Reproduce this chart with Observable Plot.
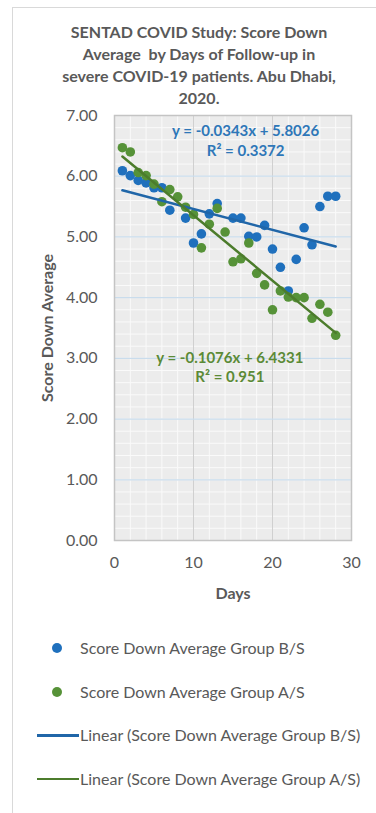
<!DOCTYPE html>
<html>
<head>
<meta charset="utf-8">
<script src="https://cdn.jsdelivr.net/npm/d3@7"></script>
<script src="https://cdn.jsdelivr.net/npm/@observablehq/plot@0.6"></script>
<style>
  html, body { margin: 0; padding: 0; background: #fff; }
  body { width: 376px; height: 813px; overflow: hidden; position: relative; font-family: Lato, "Open Sans", sans-serif; color: #595959; }
  #frame { position: absolute; left: 12px; top: 7px; width: 400px; height: 900px; border-left: 1.5px solid #d9d9d9; border-top: 1.5px solid #d9d9d9; }
  #title { position: absolute; left: 0; top: 21px; width: 398px; text-align: center; font-weight: bold; font-size: 16px; line-height: 22px; color: #595959; }
  #chart { position: absolute; left: 0; top: 0; }
  #legend { position: absolute; left: 0; top: 636px; font-size: 16px; color: #595959; }
  .row { position: absolute; left: 0; height: 24px; white-space: nowrap; }
  .row span.t { position: absolute; left: 80px; top: 0; line-height: 24px; }
  .dot { position: absolute; left: 52px; top: 7px; width: 10px; height: 10px; border-radius: 50%; }
  .ln { position: absolute; left: 37px; top: 11px; width: 42px; height: 2.5px; }
</style>
</head>
<body>
<div id="frame"></div>
<div id="chart"></div>
<div id="title">SENTAD COVID Study: Score Down<br>Average&nbsp; by Days of Follow-up in<br>severe COVID-19 patients. Abu Dhabi,<br>2020.</div>
<div id="legend"></div>
<script>
// ---- Data ----
const daysB = [1, 2, 3, 4, 5, 6, 7, 9, 10, 11, 12, 13, 15, 16, 17, 18, 19, 20, 21, 22, 23, 24, 25, 26, 27, 28];
const scoreB = [6.09, 6.01, 5.93, 5.89, 5.81, 5.81, 5.44, 5.31, 4.90, 5.05, 5.38, 5.55, 5.31, 5.31, 5.01, 5.00, 5.19, 4.80, 4.50, 4.11, 4.63, 5.15, 4.87, 5.50, 5.67, 5.67];
const daysA = [1, 2, 3, 4, 5, 6, 7, 8, 9, 10, 11, 12, 13, 14, 15, 16, 17, 18, 19, 20, 21, 22, 23, 24, 25, 26, 27, 28];
const scoreA = [6.47, 6.40, 6.06, 6.01, 5.87, 5.58, 5.78, 5.66, 5.49, 5.37, 4.82, 5.21, 5.47, 5.08, 4.59, 4.64, 4.90, 4.40, 4.21, 3.80, 4.11, 4.01, 4.00, 4.00, 3.66, 3.89, 3.76, 3.38];
const seriesNames = ["Score Down Average Group B/S", "Score Down Average Group A/S"];
const trendNames = ["Linear (Score Down Average Group B/S)", "Linear (Score Down Average Group A/S)"];
const trendSlope = [-0.0343, -0.1076];
const trendIntercept = [5.8026, 6.4331];
const trendR2 = ["0.3372", "0.951"];
const trendRange = [1, 28];
const xTicks = [0, 10, 20, 30];
const yTicks = [0, 1, 2, 3, 4, 5, 6, 7];

const colBlue = "#1f70bd", colGreen = "#569238";
const lineBlue = "#2066a8", lineGreen = "#4c7c2c";
const txtBlue = "#2e77b8", txtGreen = "#5b8a36";

const ptsB = daysB.map((d, i) => ({day: d, v: scoreB[i]}));
const ptsA = daysA.map((d, i) => ({day: d, v: scoreA[i]}));
const trend = (k) => trendRange.map(x => ({day: x, v: trendSlope[k] * x + trendIntercept[k]}));
const fmt = v => (v < 0 ? "-" : "") + Math.abs(v).toFixed(4);
const eqB = `y = ${fmt(trendSlope[0])}x + ${trendIntercept[0].toFixed(4)}`;
const eqA = `y = ${fmt(trendSlope[1])}x + ${trendIntercept[1].toFixed(4)}`;

const minorX = d3.range(0, 31, 2);
const minorY = d3.range(0, 7.001, 0.2);

const chart = Plot.plot({
  width: 376,
  height: 610,
  marginTop: 115,
  marginLeft: 114,
  marginRight: 25,
  marginBottom: 70,
  style: {fontFamily: "Lato, 'Open Sans', sans-serif", fontSize: "16px", color: "#595959", background: "transparent"},
  x: {domain: [0, 30]},
  y: {domain: [0, 7]},
  marks: [
    Plot.frame({fill: "#ececec", stroke: null}),
    Plot.gridX(minorX, {stroke: "#fafafa", strokeOpacity: 1, strokeWidth: 1}),
    Plot.gridY(minorY, {stroke: "#fafafa", strokeOpacity: 1, strokeWidth: 1}),
    Plot.gridX([10, 20], {stroke: "#d0d0d0", strokeOpacity: 1, strokeWidth: 1}),
    Plot.gridY(yTicks, {stroke: "#c9dcec", strokeOpacity: 1, strokeWidth: 1.2}),
    Plot.frame({stroke: "#c4c4c4", strokeWidth: 1.5}),
    Plot.axisX(xTicks, {tickSize: 0, tickPadding: 16, fontSize: 16, fill: "#595959",
      label: "Days", labelAnchor: "center", labelOffset: 58, labelArrow: "none"}),
    Plot.axisY(yTicks, {tickSize: 0, tickPadding: 17, fontSize: 16, fill: "#595959", tickFormat: d3.format(".2f"),
      label: "Score Down Average", labelAnchor: "center", labelOffset: 73, labelArrow: "none"}),
    Plot.dot(ptsB, {x: "day", y: "v", r: 4.8, fill: colBlue, stroke: null}),
    Plot.dot(ptsA, {x: "day", y: "v", r: 4.8, fill: colGreen, stroke: null}),
    Plot.line(trend(0), {x: "day", y: "v", stroke: lineBlue, strokeWidth: 2.5}),
    Plot.line(trend(1), {x: "day", y: "v", stroke: lineGreen, strokeWidth: 2.5}),
    Plot.text([eqB], {x: 16.6, y: 6.74, text: d => d, fill: txtBlue, fontWeight: "bold", fontSize: 15}),
    Plot.text([`R² = ${trendR2[0]}`], {x: 16.6, y: 6.41, text: d => d, fill: txtBlue, fontWeight: "bold", fontSize: 15}),
    Plot.text([eqA], {x: 14.6, y: 3.01, text: d => d, fill: txtGreen, fontWeight: "bold", fontSize: 15}),
    Plot.text([`R² = ${trendR2[1]}`], {x: 14.6, y: 2.69, text: d => d, fill: txtGreen, fontWeight: "bold", fontSize: 15})
  ]
});
document.getElementById("chart").appendChild(chart);
// bold axis labels
chart.querySelectorAll("g[aria-label='x-axis label'] text, g[aria-label='y-axis label'] text").forEach(t => t.setAttribute("font-weight", "bold"));

// ---- Legend ----
const legend = document.getElementById("legend");
const rows = [
  {type: "dot", color: colBlue, label: seriesNames[0]},
  {type: "dot", color: colGreen, label: seriesNames[1]},
  {type: "ln", color: lineBlue, label: trendNames[0]},
  {type: "ln", color: lineGreen, label: trendNames[1]}
];
rows.forEach((r, i) => {
  const div = document.createElement("div");
  div.className = "row";
  div.style.top = (i * 43.5) + "px";
  const m = document.createElement("div");
  m.className = r.type;
  m.style.background = r.color;
  div.appendChild(m);
  const s = document.createElement("span");
  s.className = "t";
  s.textContent = r.label;
  div.appendChild(s);
  legend.appendChild(div);
});
</script>
</body>
</html>
